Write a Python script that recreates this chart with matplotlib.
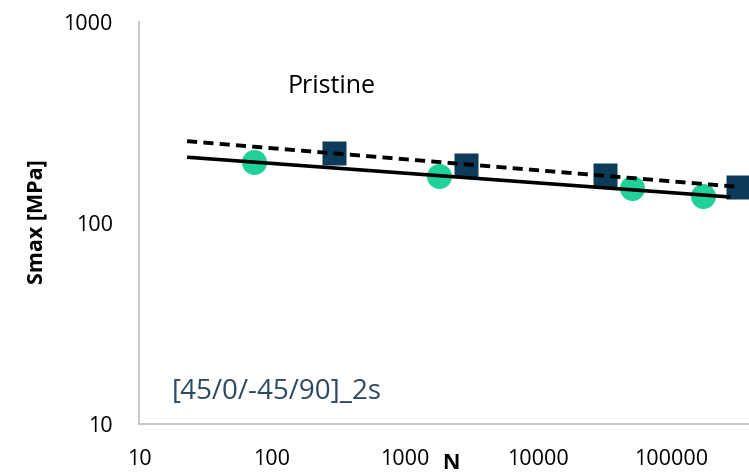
import numpy as np
import matplotlib
matplotlib.use("Agg")
import matplotlib.pyplot as plt
from matplotlib.ticker import FixedLocator, FixedFormatter, NullLocator

# ---- data ----
circle_N = [73, 1800, 51000, 174000]
circle_S = [201, 171, 149, 136]
square_N = [292, 2880, 32000, 319000]
square_S = [223, 194, 173, 151]

# trendline extents (Excel-style power trendlines with forecast)
trend_start = 23
solid_end = 2.8e5
dashed_end = 3.3e5

x_ticks = [10, 100, 1000, 10000, 100000]
x_tick_labels = ["10", "100", "1000", "10000", "100000"]
y_ticks = [10, 100, 1000]
y_tick_labels = ["10", "100", "1000"]

title_text = "Pristine"
note_text = "[45/0/-45/90]_2s"
x_label = "N"
y_label = "Smax [MPa]"

# ---- figure ----
W, H = 749, 475
fig = plt.figure(figsize=(W / 100, H / 100), dpi=100)
plt.rcParams['font.family'] = ['Open Sans', 'DejaVu Sans']

ax_left, ax_right = 139, 139 + 5 * 133
ax_top, ax_bottom = 22, 424
ax = fig.add_axes([ax_left / W, 1 - ax_bottom / H,
                   (ax_right - ax_left) / W, (ax_bottom - ax_top) / H])
ax.set_xscale('log')
ax.set_yscale('log')
ax.set_xlim(10, 1e6)
ax.set_ylim(10, 1000)

green = '#21D19A'
navy = '#0D3B5A'

ax.plot(circle_N, circle_S, linestyle='none', marker='o', markersize=18,
        markerfacecolor=green, markeredgecolor='none', zorder=2, clip_on=False)
ax.plot(square_N, square_S, linestyle='none', marker='s', markersize=17.3,
        markerfacecolor=navy, markeredgecolor='none', zorder=2, clip_on=False)


def power_fit(xs, ys):
    b, a = np.polyfit(np.log10(xs), np.log10(ys), 1)
    return a, b


a1, b1 = power_fit(circle_N, circle_S)
xs1 = np.array([trend_start, solid_end])
ax.plot(xs1, 10 ** (a1 + b1 * np.log10(xs1)), color='black', lw=2.6,
        solid_capstyle='butt', zorder=3)

a2, b2 = power_fit(square_N, square_S)
xs2 = np.array([trend_start, dashed_end])
ax.plot(xs2, 10 ** (a2 + b2 * np.log10(xs2)), color='black', lw=2.8,
        linestyle=(0, (2.6, 1.6)), dash_capstyle='butt', zorder=3)

# axes styling
for s in ['top', 'right']:
    ax.spines[s].set_visible(False)
for s in ['left', 'bottom']:
    ax.spines[s].set_color('#BFBFBF')
    ax.spines[s].set_linewidth(1.2)

ax.xaxis.set_major_locator(FixedLocator(x_ticks))
ax.xaxis.set_major_formatter(FixedFormatter(x_tick_labels))
ax.yaxis.set_major_locator(FixedLocator(y_ticks))
ax.yaxis.set_major_formatter(FixedFormatter(y_tick_labels))
ax.xaxis.set_minor_locator(NullLocator())
ax.yaxis.set_minor_locator(NullLocator())
ax.tick_params(axis='x', length=0, pad=18, labelsize=15.5, labelcolor='black')
ax.tick_params(axis='y', length=0, pad=19, labelsize=15.5, labelcolor='black')

# texts
fig.text(288 / W, 1 - 93 / H, title_text, fontsize=18, color='black',
         ha='left', va='baseline')
fig.text(172 / W, 1 - 399 / H, note_text, fontsize=20, color='#2E4A62',
         ha='left', va='baseline')
fig.text(451 / W, 1 - 469 / H, x_label, fontsize=15.5, fontweight='bold',
         ha='center', va='baseline')
fig.text(37 / W, 1 - 222 / H, y_label, fontsize=15.5, fontweight='bold',
         rotation=90, ha='center', va='center')

fig.savefig('out.png', dpi=100, facecolor='white')
